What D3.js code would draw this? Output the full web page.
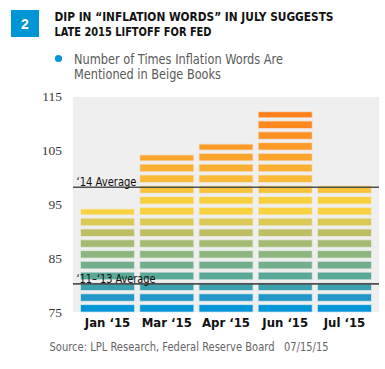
<!DOCTYPE html>
<html><head><meta charset="utf-8">
<script src="https://cdn.jsdelivr.net/npm/d3@7"></script>
<style>body{margin:0;background:#fff} svg{display:block}</style>
</head><body>
<script>
// ---- data ----
const categories = ["Jan ‘15", "Mar ‘15", "Apr ‘15", "Jun ‘15", "Jul ‘15"];
const values = [94, 104, 106, 112, 99];
const yTicks = [75, 85, 95, 105, 115];
const averageLabels = ["‘14 Average", "‘11–‘13 Average"];
const averageValues = [98.1, 80.2];
const stripeUnit = 2;

// ---- style ----
const levelColors = ["#0096d7","#2398c8","#3ca1ae","#5aa898","#73af8c","#8cb67d","#a5bb73","#bebf64",
  "#dcc855","#f8d241","#f8d03e","#f8c33a","#fab937","#fbaf32","#fca52d","#fd9b28","#fe9123","#ff891e","#ff8019"];
const narrow = "'Liberation Sans Narrow','DejaVu Sans Condensed','Arial Narrow',sans-serif";

const W = 385, H = 369;
const svg = d3.select("body").append("svg").attr("width", W).attr("height", H);

// fit a text to a target width by adjusting its font size
function fit(sel, target) {
  const n = sel.node();
  const fs = parseFloat(sel.attr("font-size"));
  const w = n.getComputedTextLength();
  if (w > 0) sel.attr("font-size", (fs * target / w).toFixed(2));
  return sel;
}

const plot = {left: 73, right: 379, top: 97, bottom: 312};
const y = d3.scaleLinear().domain([75, 115]).range([312, 96]);
const x = d3.scaleBand().domain(categories).range([plot.left, plot.right]).paddingInner(0.105).paddingOuter(0.135);

// header
svg.append("rect").attr("x", 11).attr("y", 10).attr("width", 28).attr("height", 27).attr("fill", "#0096d6");
svg.append("text").attr("x", 25).attr("y", 28.5).attr("text-anchor", "middle").attr("fill", "#fff")
  .attr("font-family", "Arial, 'Liberation Sans', sans-serif").attr("font-weight", "bold").attr("font-size", 14).text("2");
const titleLines = ["DIP IN “INFLATION WORDS” IN JULY SUGGESTS", "LATE 2015 LIFTOFF FOR FED"];
const titleWidths = [279, 157];
titleLines.forEach((t, i) => {
  svg.append("text").attr("x", 54.5).attr("y", 20.7 + i * 15).attr("fill", "#111")
    .attr("font-family", narrow).attr("font-weight", "bold").attr("font-size", 12)
    .attr("textLength", titleWidths[i]).attr("lengthAdjust", "spacingAndGlyphs").text(t);
});

// legend
svg.append("circle").attr("cx", 58.5).attr("cy", 58.5).attr("r", 3.6).attr("fill", "#0096d6");
const legendLines = ["Number of Times Inflation Words Are", "Mentioned in Beige Books"];
const legendWidths = [209, 147];
legendLines.forEach((t, i) => {
  svg.append("text").attr("x", 74).attr("y", 63.5 + i * 15.7).attr("fill", "#5a5a5a")
    .attr("font-family", narrow).attr("font-size", 13.5)
    .attr("textLength", legendWidths[i]).attr("lengthAdjust", "spacingAndGlyphs").text(t);
});

// plot background
svg.append("rect").attr("x", plot.left).attr("y", plot.top)
  .attr("width", plot.right - plot.left).attr("height", plot.bottom - plot.top).attr("fill", "#efefef");

// y tick labels
svg.append("g").selectAll("text").data(yTicks).join("text")
  .attr("x", 62).attr("y", d => y(d)).attr("dy", "0.35em").attr("text-anchor", "end")
  .attr("fill", "#3a3a3a").attr("font-family", "'Liberation Serif','DejaVu Serif',serif").attr("font-size", 13.5)
  .text(d => d);

// stripes
const stripes = [];
categories.forEach((c, i) => {
  const v = values[i];
  for (let b = 75, lvl = 0; b < v - 1e-9; b += stripeUnit, lvl++) {
    const t = Math.min(b + stripeUnit, v);
    const full = y(b) - y(b + stripeUnit);
    const top = Math.max(y(t), y(b) - 0.64 * full);
    const bottom = y(b) - 0.4;
    stripes.push({c, lvl, top, bottom});
  }
});
svg.append("g").selectAll("rect").data(stripes).join("rect")
  .attr("x", d => x(d.c)).attr("width", x.bandwidth())
  .attr("y", d => d.top).attr("height", d => Math.max(0.8, d.bottom - d.top))
  .attr("fill", d => levelColors[d.lvl])
  .attr("stroke", d => levelColors[d.lvl]).attr("stroke-opacity", 0.25).attr("stroke-width", 1.5);

// average lines
const avg = svg.append("g");
averageValues.forEach((v, i) => {
  avg.append("line").attr("x1", plot.left).attr("x2", plot.right).attr("y1", y(v)).attr("y2", y(v))
    .attr("stroke", "#505050").attr("stroke-width", 1.7);
  avg.append("text").attr("x", 76.5).attr("y", y(v) - 1).attr("fill", "#111")
    .attr("font-family", narrow).attr("font-size", 12.5)
    .attr("textLength", i === 0 ? 60 : 79).attr("lengthAdjust", "spacingAndGlyphs")
    .text(averageLabels[i]);
});

// x axis labels
svg.append("g").selectAll("text").data(categories).join("text")
  .attr("x", d => x(d) + x.bandwidth() / 2).attr("y", 326.5).attr("text-anchor", "middle")
  .attr("fill", "#111").attr("font-family", narrow).attr("font-weight", "bold").attr("font-size", 13)
  .text(d => d);

// source
const src = svg.append("text").attr("transform", "translate(49.5,350.5) scale(1,1.15)").attr("fill", "#666")
  .attr("font-family", narrow).attr("font-size", 13.5)
  .text("Source: LPL Research, Federal Reserve Board");
fit(src, 225);
const dt = svg.append("text").attr("transform", "translate(284,350.5) scale(1,1.15)").attr("fill", "#666")
  .attr("font-family", narrow).attr("font-size", 13.5)
  .text("07/15/15");
fit(dt, 44.5);
</script>
</body></html>
